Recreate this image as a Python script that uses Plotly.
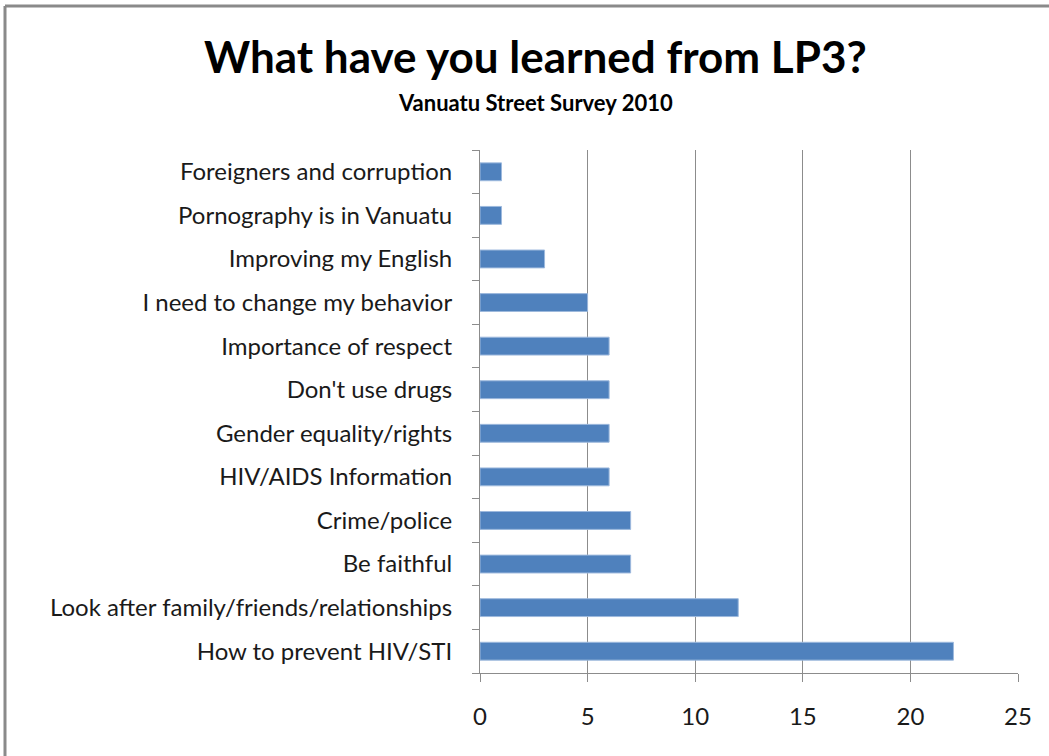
import plotly.graph_objects as go

categories = [
    "How to prevent HIV/STI",
    "Look after family/friends/relationships",
    "Be faithful",
    "Crime/police",
    "HIV/AIDS Information",
    "Gender equality/rights",
    "Don't use drugs",
    "Importance of respect",
    "I need to change my behavior",
    "Improving my English",
    "Pornography is in Vanuatu",
    "Foreigners and corruption",
]
values = [22, 12, 7, 7, 6, 6, 6, 6, 5, 3, 1, 1]
x_ticks = [0, 5, 10, 15, 20, 25]

title_text = "What have you learned from LP3?"
subtitle_text = "Vanuatu Street Survey 2010"

W, H = 1049, 756
L, R, T, B = 480, 31, 150, 83
pw, ph = W - L - R, H - T - B

def px_to_paper_x(px):
    return (px - L) / pw

def px_to_paper_y(py):
    return (H - B - py) / ph

fig = go.Figure(
    go.Bar(
        y=categories,
        x=values,
        orientation="h",
        marker=dict(color="#4F81BD", line=dict(color="#9DB9DD", width=1)),
        hoverinfo="x+y",
    )
)

font_family = "Lato, 'Open Sans', sans-serif"

fig.update_layout(
    width=W,
    height=H,
    margin=dict(l=L, r=R, t=T, b=B, pad=0),
    paper_bgcolor="white",
    plot_bgcolor="white",
    bargap=0.59,
    showlegend=False,
    font=dict(family=font_family, color="#1a1a1a", size=24),
    xaxis=dict(
        range=[0, 25],
        tickvals=x_ticks,
        showgrid=True,
        gridcolor="#8c8c8c",
        gridwidth=1,
        showline=True,
        linecolor="#8c8c8c",
        linewidth=1,
        ticks="outside",
        ticklen=8,
        tickcolor="#8c8c8c",
        ticklabelstandoff=14,
        tickfont=dict(size=24, family=font_family, color="#1a1a1a"),
        zeroline=False,
        fixedrange=True,
    ),
    yaxis=dict(
        type="category",
        categoryorder="array",
        categoryarray=categories,
        showline=True,
        linecolor="#8c8c8c",
        linewidth=1,
        ticks="outside",
        tickson="boundaries",
        ticklen=7,
        tickcolor="#8c8c8c",
        ticklabelstandoff=22,
        tickfont=dict(size=24, family=font_family, color="#1a1a1a"),
        showgrid=False,
        fixedrange=True,
    ),
    annotations=[
        dict(
            text="<b>" + title_text + "</b>",
            xref="paper", yref="paper",
            x=px_to_paper_x(535), y=px_to_paper_y(56),
            xanchor="center", yanchor="middle",
            showarrow=False,
            font=dict(size=44, family=font_family, color="black"),
        ),
        dict(
            text="<b>" + subtitle_text + "</b>",
            xref="paper", yref="paper",
            x=px_to_paper_x(535), y=px_to_paper_y(103),
            xanchor="center", yanchor="middle",
            showarrow=False,
            font=dict(size=22, family=font_family, color="black"),
        ),
    ],
    shapes=[
        dict(type="line", xref="paper", yref="paper",
             x0=px_to_paper_x(5), x1=px_to_paper_x(1060),
             y0=px_to_paper_y(6), y1=px_to_paper_y(6),
             line=dict(color="#8a8a8a", width=3)),
        dict(type="line", xref="paper", yref="paper",
             x0=px_to_paper_x(5), x1=px_to_paper_x(5),
             y0=px_to_paper_y(6), y1=px_to_paper_y(770),
             line=dict(color="#8a8a8a", width=3)),
    ],
)

fig.write_html(
    "out.html",
    config={"displayModeBar": False},
    post_script="document.body.style.margin='0';document.body.style.overflow='hidden';",
)
